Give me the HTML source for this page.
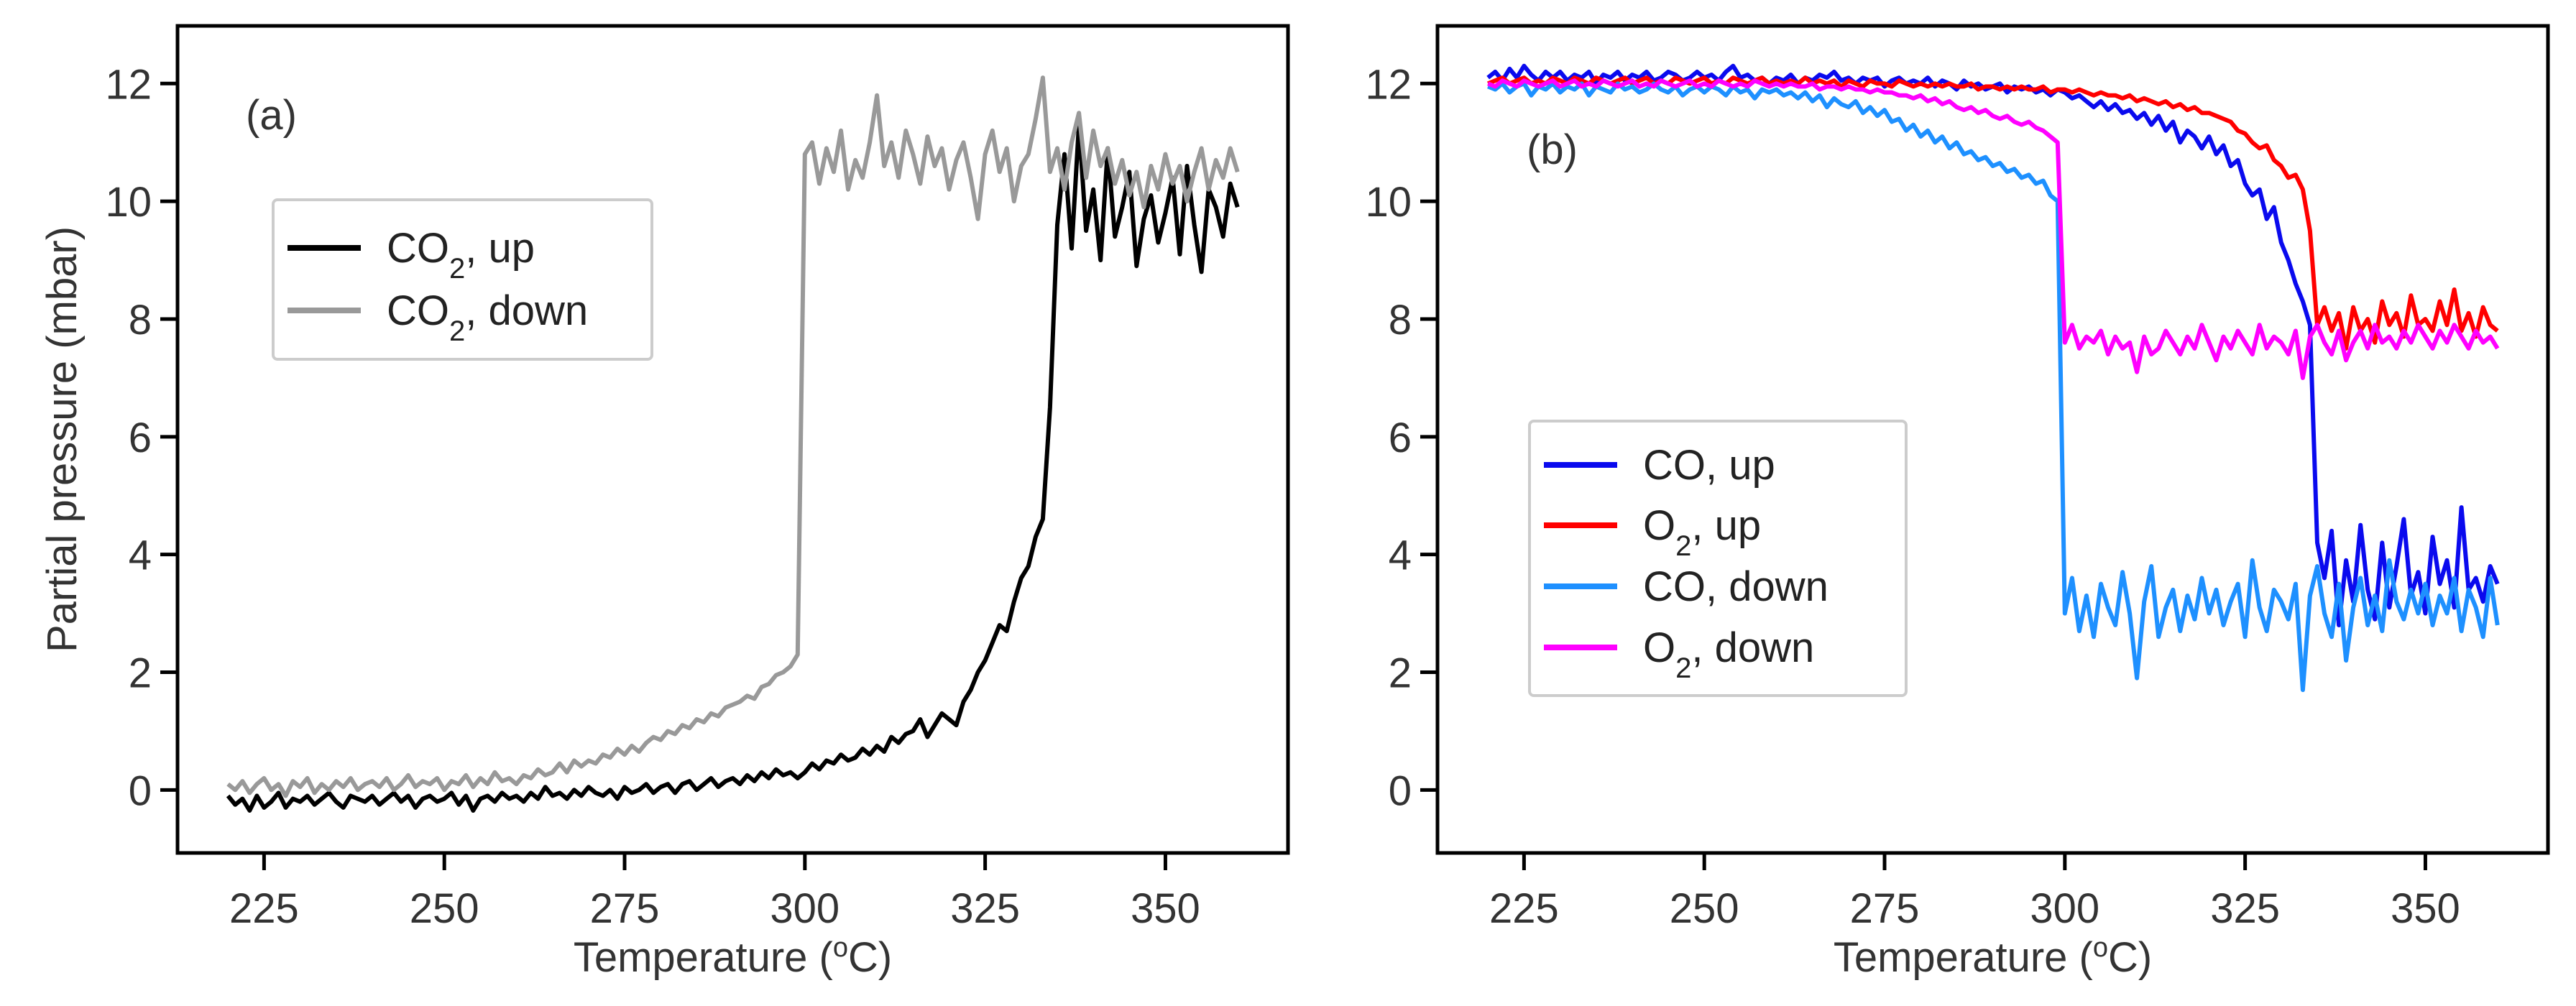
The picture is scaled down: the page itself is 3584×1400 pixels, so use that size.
<!DOCTYPE html>
<html><head><meta charset="utf-8"><style>
html,body{margin:0;padding:0;background:#fff;}
svg{display:block;font-family:"Liberation Sans",sans-serif;}
</style></head><body>
<svg id="fig" width="3584" height="1400" viewBox="0 0 3584 1400" xmlns="http://www.w3.org/2000/svg"></svg>
<script>
const tStart = 220;
const tCount = 141;
const xTicks = [225, 250, 275, 300, 325, 350];
const yTicks = [0, 2, 4, 6, 8, 10, 12];
const co2Up = [-0.1,-0.25,-0.15,-0.35,-0.1,-0.3,-0.2,-0.05,-0.3,-0.15,
-0.2,-0.1,-0.25,-0.15,-0.05,-0.2,-0.3,-0.1,-0.15,-0.2,
-0.1,-0.25,-0.15,-0.05,-0.2,-0.1,-0.3,-0.15,-0.1,-0.2,
-0.15,-0.05,-0.25,-0.1,-0.35,-0.15,-0.1,-0.2,-0.05,-0.15,
-0.1,-0.2,-0.05,-0.15,0.05,-0.1,-0.05,-0.15,0.0,-0.1,
0.05,-0.05,-0.1,0.0,-0.15,0.05,-0.05,0.0,0.1,-0.05,
0.05,0.1,-0.05,0.1,0.15,0.0,0.1,0.2,0.05,0.15,
0.2,0.1,0.25,0.15,0.3,0.2,0.35,0.25,0.3,0.2,
0.3,0.45,0.35,0.5,0.45,0.6,0.5,0.55,0.7,0.6,
0.75,0.65,0.9,0.8,0.95,1.0,1.2,0.9,1.1,1.3,
1.2,1.1,1.5,1.7,2.0,2.2,2.5,2.8,2.7,3.2,
3.6,3.8,4.3,4.6,6.5,9.6,10.8,9.2,11.3,9.5,
10.2,9.0,10.9,9.4,9.9,10.5,8.9,9.7,10.1,9.3,
9.8,10.4,9.1,10.6,9.6,8.8,10.2,9.9,9.4,10.3,9.9];
const co2Down = [0.1,0.0,0.15,-0.05,0.1,0.2,0.0,0.1,-0.1,0.15,
0.05,0.2,-0.05,0.1,0.0,0.15,0.05,0.2,0.0,0.1,
0.15,0.05,0.2,0.0,0.1,0.25,0.05,0.15,0.1,0.2,
0.0,0.15,0.1,0.25,0.05,0.2,0.1,0.3,0.15,0.2,
0.1,0.25,0.2,0.35,0.25,0.3,0.45,0.3,0.5,0.4,
0.5,0.45,0.6,0.55,0.7,0.6,0.75,0.65,0.8,0.9,
0.85,1.0,0.95,1.1,1.05,1.2,1.15,1.3,1.25,1.4,
1.45,1.5,1.6,1.55,1.75,1.8,1.95,2.0,2.1,2.3,
10.8,11.0,10.3,10.9,10.5,11.2,10.2,10.7,10.4,11.0,
11.8,10.6,11.0,10.4,11.2,10.8,10.3,11.1,10.6,10.9,
10.2,10.7,11.0,10.4,9.7,10.8,11.2,10.5,10.9,10.0,
10.6,10.8,11.4,12.1,10.5,10.9,10.2,11.0,11.5,10.4,
11.2,10.6,10.9,10.3,10.7,10.1,10.5,9.9,10.6,10.2,
10.8,10.3,10.6,10.0,10.5,10.9,10.2,10.7,10.4,10.9,10.5];
const coUp = [12.1,12.2,12.05,12.25,12.1,12.3,12.15,12.05,12.2,12.1,
12.2,12.05,12.15,12.1,12.2,12.0,12.15,12.1,12.2,12.05,
12.15,12.1,12.2,12.05,12.1,12.2,12.15,12.05,12.1,12.2,
12.1,12.15,12.05,12.2,12.3,12.1,12.15,12.05,12.1,12.0,
12.1,12.05,12.15,12.0,12.1,12.05,12.15,12.1,12.2,12.05,
12.1,12.0,12.1,12.05,12.1,11.95,12.05,12.1,12.0,12.05,
12.0,12.1,11.95,12.05,12.0,11.9,12.05,11.95,12.0,11.9,
11.95,12.0,11.85,11.95,11.9,11.95,11.85,11.9,11.8,11.9,
11.85,11.75,11.8,11.7,11.6,11.7,11.55,11.65,11.5,11.55,
11.4,11.5,11.3,11.45,11.2,11.35,11.0,11.2,11.1,10.9,
11.1,10.8,10.95,10.6,10.7,10.3,10.1,10.2,9.7,9.9,
9.3,9.0,8.6,8.3,7.9,4.2,3.6,4.4,2.8,3.9,
3.2,4.5,3.4,2.9,4.2,3.1,3.8,4.6,3.3,3.7,
3.0,4.3,3.5,3.9,3.1,4.8,3.4,3.6,3.2,3.8,3.5];
const o2Up = [12.0,12.05,12.1,12.0,12.05,12.1,12.0,12.05,12.0,12.1,
12.05,12.0,12.1,12.05,12.0,12.1,12.05,12.0,12.05,12.1,
12.0,12.05,12.1,12.0,12.05,12.0,12.1,12.05,12.0,12.05,
12.1,12.0,12.05,12.0,12.1,12.05,12.0,12.05,12.1,12.0,
12.05,12.0,12.05,12.0,12.1,12.0,12.05,12.0,12.05,11.95,
12.05,12.0,11.95,12.05,12.0,12.0,11.95,12.05,12.0,11.95,
12.0,11.95,12.0,11.95,12.0,11.95,11.95,12.0,11.9,11.95,
11.95,11.9,11.95,11.9,11.95,11.9,11.9,11.95,11.85,11.9,
11.9,11.85,11.9,11.85,11.8,11.85,11.8,11.8,11.75,11.8,
11.7,11.75,11.7,11.65,11.7,11.6,11.65,11.55,11.6,11.5,
11.5,11.45,11.4,11.35,11.2,11.15,11.0,10.9,10.95,10.7,
10.6,10.4,10.45,10.2,9.5,7.9,8.2,7.8,8.1,7.5,
8.2,7.8,8.0,7.6,8.3,7.9,8.1,7.7,8.4,7.9,
8.0,7.8,8.3,7.9,8.5,7.8,8.1,7.7,8.2,7.9,7.8];
const coDown = [11.95,11.9,12.0,11.85,11.95,12.0,11.8,11.95,11.9,12.0,
11.85,11.95,11.9,12.0,11.8,11.95,11.9,11.85,12.0,11.9,
11.95,11.85,11.9,12.0,11.9,11.85,11.95,11.8,11.9,11.95,
11.85,11.95,11.9,11.8,11.95,11.85,11.9,11.75,11.9,11.85,
11.9,11.8,11.85,11.75,11.85,11.7,11.8,11.6,11.75,11.65,
11.6,11.7,11.5,11.6,11.45,11.55,11.35,11.4,11.2,11.3,
11.1,11.2,11.0,11.1,10.9,11.0,10.8,10.85,10.7,10.75,
10.6,10.65,10.5,10.55,10.4,10.45,10.3,10.35,10.1,10.0,
3.0,3.6,2.7,3.3,2.6,3.5,3.1,2.8,3.7,3.0,
1.9,3.2,3.8,2.6,3.1,3.4,2.7,3.3,2.9,3.6,
3.0,3.4,2.8,3.2,3.5,2.6,3.9,3.1,2.7,3.4,
3.2,2.9,3.5,1.7,3.3,3.8,3.0,2.6,3.5,2.2,
3.1,3.6,2.8,3.3,2.7,3.9,3.2,2.9,3.4,3.0,
3.5,2.8,3.3,3.0,3.6,2.7,3.4,3.1,2.6,3.6,2.8];
const o2Down = [12.0,11.95,12.05,12.0,11.95,12.05,12.0,11.95,12.0,12.05,
11.95,12.0,12.05,11.95,12.0,11.95,12.05,12.0,11.95,12.0,
12.05,11.95,12.0,11.95,12.05,12.0,11.95,12.0,12.05,11.95,
12.0,11.95,12.05,12.0,11.95,12.0,11.95,12.05,12.0,11.95,
12.0,11.95,12.0,11.95,11.95,12.0,11.9,11.95,11.95,11.9,
11.95,11.9,11.9,11.85,11.9,11.85,11.85,11.8,11.8,11.75,
11.8,11.7,11.75,11.65,11.7,11.6,11.55,11.6,11.5,11.55,
11.45,11.4,11.45,11.35,11.3,11.35,11.25,11.2,11.1,11.0,
7.6,7.9,7.5,7.7,7.6,7.8,7.4,7.7,7.5,7.6,
7.1,7.7,7.4,7.5,7.8,7.6,7.4,7.7,7.5,7.9,
7.6,7.3,7.7,7.5,7.8,7.6,7.4,7.9,7.5,7.7,
7.6,7.4,7.8,7.0,7.7,7.9,7.6,7.4,7.8,7.3,
7.6,7.8,7.5,7.9,7.6,7.7,7.5,7.8,7.6,7.9,
7.7,7.5,7.8,7.6,7.9,7.7,7.5,7.8,7.6,7.7,7.5];

const NS = 'http://www.w3.org/2000/svg';
const svg = document.getElementById('fig');
const X0 = 213, X1 = 367, Y0 = -1.07, Y1 = 12.98;
const TOP = 36, BOT = 1187, W = 1545;
function mk(tag, attrs, parent) {
  const e = document.createElementNS(NS, tag);
  for (const k in attrs) e.setAttribute(k, attrs[k]);
  (parent || svg).appendChild(e);
  return e;
}
function panel(left, name) {
  const g = mk('g', {});
  
  
  const xs = v => left + (v - X0) / (X1 - X0) * W;
  const ys = v => BOT - (v - Y0) / (Y1 - Y0) * (BOT - TOP);
  return { g, xs, ys, left };
}
function axes(p, withYLabel) {
  const { g, xs, ys, left } = p;
  xTicks.forEach(v => {
    const t = mk('line', { x1: xs(v), x2: xs(v), y1: BOT, y2: BOT + 24, stroke: '#000', 'stroke-width': 5 }, g);
    
    
    const l = mk('text', { x: xs(v), y: 1284, 'font-size': 58, fill: '#333', 'text-anchor': 'middle' }, g);
    l.textContent = v;
    
    
  });
  yTicks.forEach(v => {
    const t = mk('line', { x1: left - 24, x2: left, y1: ys(v), y2: ys(v), stroke: '#000', 'stroke-width': 5 }, g);
    
    
    const l = mk('text', { x: left - 36, y: ys(v) + 21, 'font-size': 58, fill: '#333', 'text-anchor': 'end' }, g);
    l.textContent = v;
    
    
  });
  const xl = mk('text', { x: left + W / 2, y: 1352, 'font-size': 58, fill: '#333', 'text-anchor': 'middle' }, g);
  xl.innerHTML = 'Temperature (<tspan baseline-shift="super" font-size="38">o</tspan>C)';
  
  
  if (withYLabel) {
    const yl = mk('text', { x: 0, y: 0, 'font-size': 58, fill: '#333', 'text-anchor': 'middle', transform: 'translate(106,' + ((TOP + BOT) / 2) + ') rotate(-90)' }, g);
    yl.textContent = 'Partial pressure (mbar)';
    
    
  }
}
function frame(p) {
  const r = mk('rect', { x: p.left, y: TOP, width: W, height: BOT - TOP, fill: 'none', stroke: '#000', 'stroke-width': 5 }, p.g);
  
  
}
function series(p, vals, color, name) {
  let d = '';
  vals.forEach((v, i) => { d += (i ? 'L' : 'M') + p.xs(tStart + i).toFixed(1) + ' ' + p.ys(v).toFixed(1); });
  const path = mk('path', { d, fill: 'none', stroke: color, 'stroke-width': 6, 'stroke-linejoin': 'round' }, p.g);
  
  
}
function legend(p, x, y, w, h, items, rowY, name) {
  const lg = mk('g', {}, p.g);
  
  
  mk('rect', { x, y, width: w, height: h, rx: 6, fill: '#fff', 'fill-opacity': 0.85, stroke: '#ccc', 'stroke-width': 4 }, lg);
  items.forEach((it, i) => {
    const cy = rowY[i];
    const ln = mk('line', { x1: x + 20, x2: x + 122, y1: cy, y2: cy, stroke: it.c, 'stroke-width': 8 }, lg);
    
    
    const t = mk('text', { x: x + 158, y: cy + 20, 'font-size': 58, fill: '#222' }, lg);
    t.innerHTML = it.t;
    
    
  });
}
const sub2 = '<tspan baseline-shift="sub" font-size="40">2</tspan>';

// Panel a
const pa = panel(247, 'panel-a');
axes(pa, true);
series(pa, co2Up, '#000000', 'co2-up-line');
series(pa, co2Down, '#999999', 'co2-down-line');
frame(pa);
const la = mk('text', { x: 342, y: 180, 'font-size': 58, fill: '#333' }, pa.g);
la.textContent = '(a)';


legend(pa, 380, 278, 527, 222, [{ c: '#000', t: 'CO' + sub2 + ', up' }, { c: '#999', t: 'CO' + sub2 + ', down' }], [345, 432], 'legend-a');

// Panel b
const pb = panel(2000, 'panel-b');
axes(pb, false);
series(pb, coUp, '#0a0aee', 'co-up-line');
series(pb, o2Up, '#ff0000', 'o2-up-line');
series(pb, coDown, '#1e90ff', 'co-down-line');
series(pb, o2Down, '#ff00ff', 'o2-down-line');
frame(pb);
const lb = mk('text', { x: 2124, y: 228, 'font-size': 58, fill: '#333' }, pb.g);
lb.textContent = '(b)';


legend(pb, 2128, 586, 524, 382, [
  { c: '#0a0aee', t: 'CO, up' },
  { c: '#ff0000', t: 'O' + sub2 + ', up' },
  { c: '#1e90ff', t: 'CO, down' },
  { c: '#ff00ff', t: 'O' + sub2 + ', down' }
], [647, 731, 816, 901], 'legend-b');
</script>
</body></html>
